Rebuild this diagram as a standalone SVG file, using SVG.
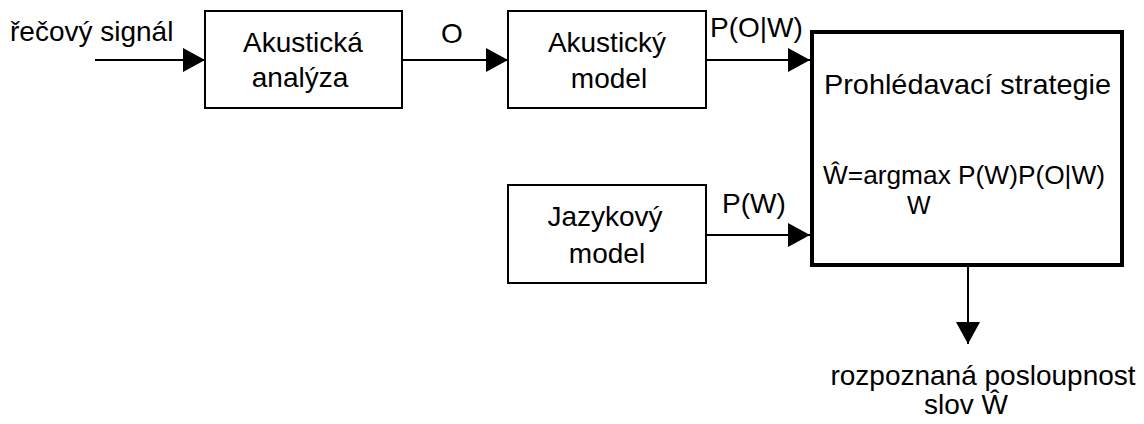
<svg xmlns="http://www.w3.org/2000/svg" width="1144" height="424" viewBox="0 0 1144 424">
<defs>
<style>
text{font-family:"Liberation Sans",Arial,sans-serif;font-size:28px;fill:#000}
.c{text-anchor:middle}
.box{fill:#fff;stroke:#000;stroke-width:2}
.thick{fill:#fff;stroke:#000;stroke-width:4}
.con{stroke:#000;stroke-width:2;fill:none}
.f{font-size:25px}
</style>
<marker id="ah" markerUnits="userSpaceOnUse" markerWidth="22" markerHeight="24" refX="22" refY="12" orient="auto">
<path d="M0,0 L22,12 L0,24 Z" fill="#000"/>
</marker>
</defs>
<rect width="1144" height="424" fill="#fff"/>
<g id="connectors">
<line class="con" x1="95" y1="60" x2="205" y2="60" marker-end="url(#ah)"/>
<line class="con" x1="402" y1="60" x2="508" y2="60" marker-end="url(#ah)"/>
<line class="con" x1="706" y1="60" x2="810" y2="60" marker-end="url(#ah)"/>
<line class="con" x1="706" y1="235" x2="810" y2="235" marker-end="url(#ah)"/>
<line class="con" x1="968" y1="267" x2="968" y2="344" marker-end="url(#ah)"/>
<text x="10" y="41">řečový signál</text>
<text x="452" y="43" class="c">O</text>
<text x="710" y="37">P(O|W)</text>
<text x="722" y="213">P(W)</text>
<text x="983" y="385" class="c">rozpoznaná posloupnost</text>
<text x="966" y="414" class="c">slov Ŵ</text>
</g>
<g id="akusticka-analyza">
<rect class="box" x="205" y="11" width="197" height="97"/>
<text x="303" y="52" class="c">Akustická</text>
<text x="300" y="87" class="c">analýza</text>
</g>
<g id="akusticky-model">
<rect class="box" x="508" y="11" width="198" height="97"/>
<text x="607" y="52" class="c">Akustický</text>
<text x="609" y="88" class="c">model</text>
</g>
<g id="jazykovy-model">
<rect class="box" x="508" y="185" width="198" height="98"/>
<text x="605" y="226" class="c">Jazykový</text>
<text x="607" y="263" class="c">model</text>
</g>
<g id="prohledavaci-strategie">
<rect class="thick" x="812" y="32" width="310" height="233"/>
<text x="824" y="94" textLength="287" lengthAdjust="spacingAndGlyphs">Prohlédavací strategie</text>
<text x="823" y="184" class="f" textLength="282" lengthAdjust="spacingAndGlyphs">Ŵ=argmax P(W)P(O|W)</text>
<text x="907" y="214" class="f">W</text>
</g>
</svg>
